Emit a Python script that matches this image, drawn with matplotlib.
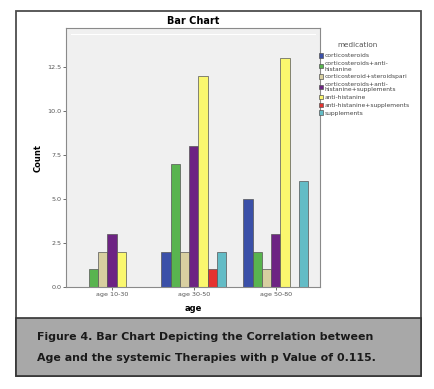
import numpy as np
import matplotlib
matplotlib.use("Agg")
import matplotlib.pyplot as plt
from matplotlib.patches import Rectangle

# data
age_groups = ["age 10-30", "age 30-50", "age 50-80"]
medications = [
    "corticosteroids",
    "corticosteroids+anti-\nhistanine",
    "corticosteroid+steroidspari",
    "corticosteroids+anti-\nhistanine+supplements",
    "anti-histanine",
    "anti-histanine+supplements",
    "supplements",
]
counts_corticosteroids = [0, 2, 5]
counts_cort_antihist = [1, 7, 2]
counts_cort_steroidspari = [2, 2, 1]
counts_cort_antihist_suppl = [3, 8, 3]
counts_antihist = [2, 12, 13]
counts_antihist_suppl = [0, 1, 0]
counts_supplements = [0, 2, 6]
y_ticks = [0.0, 2.5, 5.0, 7.5, 10.0, 12.5]

series = [counts_corticosteroids, counts_cort_antihist, counts_cort_steroidspari,
          counts_cort_antihist_suppl, counts_antihist, counts_antihist_suppl,
          counts_supplements]
colors = ["#3B50A8", "#59B44F", "#D8CFA0", "#6D2383", "#FAF76E", "#E5322F", "#63BCC6"]

W, H = 434, 389
fig = plt.figure(figsize=(W / 100, H / 100), dpi=100)
fig.patch.set_facecolor("white")

# outer frame and caption box
fig.add_artist(Rectangle((16 / W, 1 - 376 / H), 405 / W, 365 / H, transform=fig.transFigure,
                         facecolor="none", edgecolor="#4d4d4d", lw=1.3))
fig.add_artist(Rectangle((16 / W, 1 - 376 / H), 405 / W, 58 / H, transform=fig.transFigure,
                         facecolor="#A8A8A8", edgecolor="#333333", lw=1.2))
fig.text(37 / W, 1 - 337 / H, "Figure 4. Bar Chart Depicting the Correlation between",
         fontsize=7.9, fontweight="bold", color="#1a1a1a", va="center", ha="left")
fig.text(37 / W, 1 - 358 / H, "Age and the systemic Therapies with p Value of 0.115.",
         fontsize=7.9, fontweight="bold", color="#1a1a1a", va="center", ha="left")

ax = fig.add_axes([66 / W, 1 - 287 / H, 254 / W, 259 / H])
ax.set_facecolor("#F0F0F0")

x = np.arange(len(age_groups))
n = len(series)
bw = 0.113
for i, (vals, c, lab) in enumerate(zip(series, colors, medications)):
    off = (i - (n - 1) / 2) * bw
    ax.bar(x + off, vals, width=bw, color=c, edgecolor="#555555", linewidth=0.5, label=lab)

ax.set_xlim(-0.56, 2.54)
ax.set_ylim(0, 14.7)
ax.set_yticks(y_ticks)
ax.set_yticklabels([f"{t:.1f}" for t in y_ticks])
ax.set_xticks(x)
ax.set_xticklabels(age_groups)
ax.tick_params(axis="both", labelsize=4.6, labelcolor="#555555", color="#555555",
               length=2, width=0.6, pad=1.5)
for s in ax.spines.values():
    s.set_color("#8a8a8a")
    s.set_linewidth(0.8)
ax.axhline(14.35, color="white", lw=0.8, xmin=0.02, xmax=0.98)

ax.set_title("Bar Chart", fontsize=7, fontweight="bold", pad=3)
ax.set_ylabel("Count", fontsize=6, fontweight="bold", labelpad=3)
ax.set_xlabel("age", fontsize=6, fontweight="bold", labelpad=5)

# legend title placed separately, entries below it
fig.text(358 / W, 1 - 45 / H, "medication", fontsize=5.2, color="#555555",
         ha="center", va="center")
leg = ax.legend(loc="upper left", bbox_to_anchor=(319 / W, 1 - 53 / H),
                bbox_transform=fig.transFigure, frameon=False, fontsize=4.3,
                handlelength=0.6, handleheight=0.8, handletextpad=0.3,
                labelspacing=0.4, borderpad=0, borderaxespad=0)
for t in leg.get_texts():
    t.set_color("#444444")

fig.savefig("out.png", dpi=100)
